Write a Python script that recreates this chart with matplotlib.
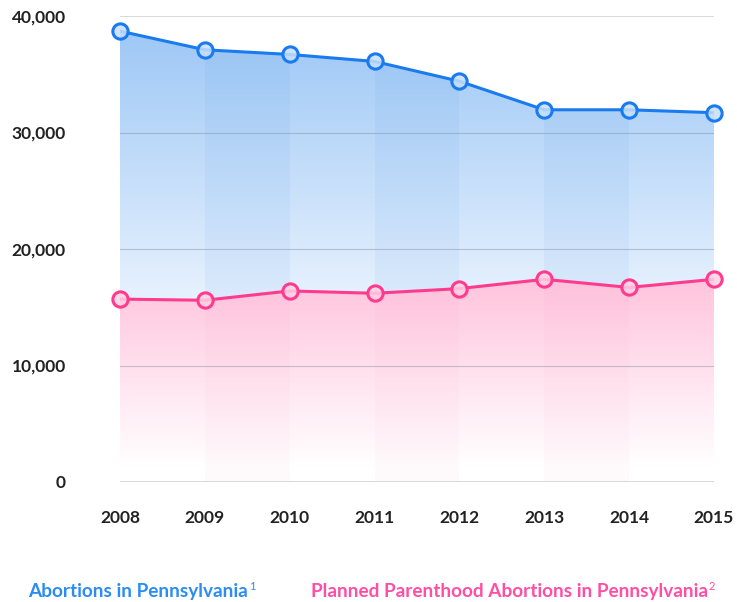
import numpy as np
import matplotlib
matplotlib.use("Agg")
import matplotlib.pyplot as plt
from matplotlib.patches import Polygon
from matplotlib.colors import LinearSegmentedColormap
from matplotlib.ticker import FuncFormatter

years = ["2008", "2009", "2010", "2011", "2012", "2013", "2014", "2015"]
pa_abortions = [38700, 37100, 36700, 36100, 34400, 31950, 31950, 31700]
pp_abortions = [15700, 15600, 16400, 16200, 16600, 17400, 16700, 17400]
y_ticks = [0, 10000, 20000, 30000, 40000]
legend_labels = ["Abortions in Pennsylvania", "Planned Parenthood Abortions in Pennsylvania"]
legend_marks = ["1", "2"]

BLUE = "#1a7af0"
PINK = "#ff3b8d"
BLUE_TXT = "#2b8df2"
PINK_TXT = "#ff4fa5"

plt.rcParams['font.family'] = ['Lato', 'DejaVu Sans']

fig = plt.figure(figsize=(7.37, 6.02), dpi=100)
ax = fig.add_axes([120/737, 1-482/602, (714-120)/737, (482-16)/602])
x = np.arange(len(years))
ax.set_xlim(x[0], x[-1])
ax.set_ylim(0, 40000)

def grad_fill(vals, top_color, bottom_color, z, fade_frac):
    cmap = LinearSegmentedColormap.from_list(
        "g", [(0.0, "#ffffff"), (fade_frac, bottom_color), (1.0, top_color)])
    grad = np.linspace(0, 1, 256).reshape(-1, 1)
    top = max(vals)
    im = ax.imshow(grad, cmap=cmap, origin="lower", aspect="auto",
                   extent=[x[0], x[-1], 0, top], zorder=z)
    verts = [(x[0], 0)] + list(zip(x, vals)) + [(x[-1], 0)]
    poly = Polygon(verts, closed=True, facecolor="none", edgecolor="none")
    ax.add_patch(poly)
    im.set_clip_path(poly)
    return poly

def stripes(poly, color, alpha, z):
    for i in range(1, len(years) - 1, 2):
        sp = ax.axvspan(x[i], x[i+1], color=color, alpha=alpha, lw=0, zorder=z)
        sp.set_clip_path(poly)

blue_poly = grad_fill(pa_abortions, "#9ec8f6", "#f4f9ff", 1, 0.3)
stripes(blue_poly, "#2f7fe0", 0.06, 1.5)
pink_poly = grad_fill(pp_abortions, "#ffc4dd", "#ffffff", 2, 0.08)
stripes(pink_poly, "#f06aa8", 0.03, 2.5)

# gridlines
for t in y_ticks:
    if t in (0, 40000):
        ax.axhline(t, color="#d2d2d2", lw=1.2, zorder=4)
    else:
        ax.axhline(t, color="#8a97a6", lw=0.8, alpha=0.5, zorder=4)

ax.plot(x, pa_abortions, color=BLUE, lw=2.2, zorder=5)
ax.plot(x, pp_abortions, color=PINK, lw=2.2, zorder=5)
ax.plot(x, pa_abortions, "o", ms=11, mfc=(0.78, 0.88, 0.98, 0.85), mec=BLUE, mew=2.2, zorder=6, clip_on=False)
ax.plot(x, pp_abortions, "o", ms=11, mfc=(1.0, 0.82, 0.9, 0.85), mec=PINK, mew=2.2, zorder=6, clip_on=False)

for s in ax.spines.values():
    s.set_visible(False)
ax.set_xticks(x)
ax.set_xticklabels(years, fontsize=12.5, fontweight="bold", color="#222222")
ax.set_yticks(y_ticks)
ax.yaxis.set_major_formatter(FuncFormatter(lambda v, p: f"{int(v):,}"))
for lab in ax.get_yticklabels():
    lab.set_fontsize(12.5)
    lab.set_fontweight("bold")
    lab.set_color("#222222")
ax.tick_params(axis="both", length=0)
ax.tick_params(axis="y", pad=39)
ax.tick_params(axis="x", pad=20)

fig.canvas.draw()
r = fig.canvas.get_renderer()
t1 = fig.text(28/737, 1-591/602, legend_labels[0], color=BLUE_TXT, fontsize=13.7, fontweight="bold", va="center", ha="left")
t2 = fig.text(311/737, 1-591/602, legend_labels[1], color=PINK_TXT, fontsize=13.7, fontweight="bold", va="center", ha="left")
for t, m, c in [(t1, legend_marks[0], BLUE_TXT), (t2, legend_marks[1], PINK_TXT)]:
    bb = t.get_window_extent(renderer=r)
    fig.text((bb.x1 + 1) / fig.bbox.width, 1-586/602, m, color=c, fontsize=8, va="center", ha="left")

fig.savefig("out.png", dpi=100)
